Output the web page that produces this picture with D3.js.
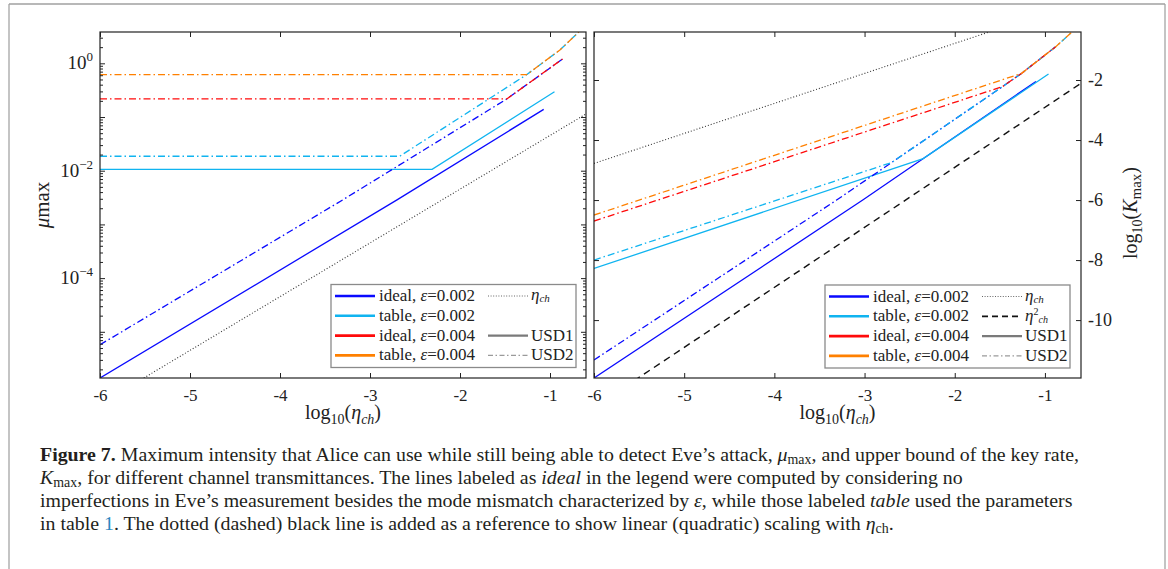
<!DOCTYPE html>
<html><head><meta charset="utf-8">
<script src="https://cdn.jsdelivr.net/npm/d3@7"></script>
<style>
body{margin:0;background:#fff;}
svg{display:block;}
text{font-family:"Liberation Serif","DejaVu Serif",serif;fill:#222;}
</style></head><body>
<svg id="c" width="1168" height="569"></svg>
<script>
// ---------------- DATA ----------------
const xTicks = [-6, -5, -4, -3, -2, -1];
const xTickLabels = ["-6", "-5", "-4", "-3", "-2", "-1"];
const xDomain = [-6, -0.6];

const muDomain = [1.38e-6, 3.83];
const muMajorTicks = [1, 1e-1, 1e-2, 1e-3, 1e-4, 1e-5];
const muLabelExponents = [0, -2, -4];

const kDomain = [-11.93, -0.4];
const kTicks = [-2, -4, -6, -8, -10];
const kTickLabels = ["-2", "-4", "-6", "-8", "-10"];

// left panel: mu_max vs log10(eta_ch)
const muIdeal002USD1 = [[-6, 1.38e-6], [-2.70, 2.86e-3], [-1.07, 0.139]];
const muTable002USD1 = [[-6, 0.0106], [-2.31, 0.0106], [-0.95, 0.296]];
const muIdeal002USD2 = [[-6, 5.74e-6], [-3.30, 2.88e-3], [-1.48, 0.217], [-0.85, 1.24]];
const muTable002USD2 = [[-6, 0.0186], [-2.67, 0.0186], [-1.26, 0.614], [-0.89, 1.77], [-0.68, 3.83]];
const muIdeal004USD2 = [[-6, 0.217], [-1.48, 0.217], [-0.85, 1.24]];
const muTable004USD2 = [[-6, 0.614], [-1.26, 0.614], [-0.89, 1.77], [-0.68, 3.83]];
const muEtaRef = [[-6, 4.5e-7], [-0.6, 0.114]];

// right panel: log10(K_max) vs log10(eta_ch)
const kIdeal002USD1 = [[-6, -11.93], [-3.02, -6.0], [-1.10, -2.05]];
const kTable002USD1 = [[-6, -8.28], [-2.35, -4.62], [-0.96, -1.80]];
const kIdeal002USD2 = [[-6, -11.33], [-3.31, -6.0], [-2.70, -4.75], [-1.47, -2.22], [-1.26, -1.78], [-0.88, -0.89]];
const kTable002USD2 = [[-6, -8.0], [-2.70, -4.75], [-1.47, -2.22], [-1.26, -1.78], [-0.88, -0.89], [-0.70, -0.4]];
const kIdeal004USD2 = [[-6, -6.7], [-1.47, -2.22], [-1.26, -1.78], [-0.88, -0.89]];
const kTable004USD2 = [[-6, -6.5], [-1.26, -1.78], [-0.88, -0.89], [-0.70, -0.4]];
const kEtaRef = [[-6, -4.78], [-0.6, 0.62]];
const kEta2Ref = [[-6, -12.91], [-0.6, -2.11]];

const legendLabels = ["ideal, ε=0.002", "table, ε=0.002", "ideal, ε=0.004", "table, ε=0.004"];

// ---------------- STYLE ----------------
const BLUE = "#0a0aff", CYAN = "#10b4f0", RED = "#ff0a0a", ORANGE = "#ff8000";
const legendColors = [BLUE, CYAN, RED, ORANGE];
const DASH = {solid: null, dashdot: "7,3,1.5,3", dotted: "1,2", dashed: "7,5"};

const svg = d3.select("#c");
svg.append("rect").attr("width", 1168).attr("height", 569).attr("fill", "#fff");
// outer frame
svg.append("line").attr("x1", 9).attr("x2", 9).attr("y1", 4).attr("y2", 569).attr("stroke", "#c4c4c4").attr("stroke-width", 2);
svg.append("line").attr("x1", 1165).attr("x2", 1165).attr("y1", 4).attr("y2", 569).attr("stroke", "#c4c4c4").attr("stroke-width", 2);
svg.append("line").attr("x1", 9).attr("x2", 1165).attr("y1", 4).attr("y2", 4).attr("stroke", "#a0a0a0").attr("stroke-width", 1.5);

const L = {x0: 100, x1: 586, y0: 32, y1: 378};
const R = {x0: 594, x1: 1081, y0: 32, y1: 378};

const xL = d3.scaleLinear().domain(xDomain).range([L.x0, L.x1]);
const xR = d3.scaleLinear().domain(xDomain).range([R.x0, R.x1]);
const yL = d3.scaleLog().domain(muDomain).range([L.y1, L.y0]);
const yR = d3.scaleLinear().domain(kDomain).range([R.y1, R.y0]);

const defs = svg.append("defs");
[["clipL", L], ["clipR", R]].forEach(([id, P]) => {
  defs.append("clipPath").attr("id", id).append("rect")
    .attr("x", P.x0).attr("y", P.y0).attr("width", P.x1 - P.x0).attr("height", P.y1 - P.y0);
});

function drawSeries(g, list, xs, ys) {
  const line = d3.line().x(d => xs(d[0])).y(d => ys(d[1]));
  list.forEach(s => {
    g.append("path").attr("d", line(s.data)).attr("fill", "none")
      .attr("stroke", s.color).attr("stroke-width", s.w || 1.3)
      .attr("stroke-dasharray", DASH[s.dash]);
  });
}

const gL = svg.append("g").attr("clip-path", "url(#clipL)");
drawSeries(gL, [
  {data: muEtaRef, color: "#333", dash: "dotted", w: 1.1},
  {data: muIdeal002USD1, color: BLUE, dash: "solid"},
  {data: muTable002USD1, color: CYAN, dash: "solid"},
  {data: muIdeal002USD2, color: BLUE, dash: "dashdot"},
  {data: muTable002USD2, color: CYAN, dash: "dashdot"},
  {data: muIdeal004USD2, color: RED, dash: "dashdot"},
  {data: muTable004USD2, color: ORANGE, dash: "dashdot"}
], xL, yL);

const gR = svg.append("g").attr("clip-path", "url(#clipR)");
drawSeries(gR, [
  {data: kEtaRef, color: "#333", dash: "dotted", w: 1.1},
  {data: kEta2Ref, color: "#111", dash: "dashed", w: 1.4},
  {data: kIdeal002USD1, color: BLUE, dash: "solid"},
  {data: kTable002USD1, color: CYAN, dash: "solid"},
  {data: kIdeal002USD2, color: BLUE, dash: "dashdot"},
  {data: kTable002USD2, color: CYAN, dash: "dashdot"},
  {data: kIdeal004USD2, color: RED, dash: "dashdot"},
  {data: kTable004USD2, color: ORANGE, dash: "dashdot"}
], xR, yR);

// ---------------- AXES ----------------
function styleAxis(g) {
  g.select(".domain").remove();
  g.selectAll(".tick line").attr("stroke", "#222").attr("stroke-width", 1);
  g.selectAll(".tick text").attr("fill", "#222").style("font-family", '"Liberation Serif",serif');
}
function xAxes(xs, P) {
  const b = svg.append("g").attr("transform", `translate(0,${P.y1})`)
    .call(d3.axisBottom(xs).tickValues(xTicks).tickSize(-5).tickPadding(11)
      .tickFormat((d, i) => xTickLabels[i]));
  styleAxis(b);
  b.selectAll(".tick text").style("font-size", "17px");
  const t = svg.append("g").attr("transform", `translate(0,${P.y0})`)
    .call(d3.axisTop(xs).tickValues(xTicks).tickSize(-5).tickFormat(""));
  styleAxis(t);
}
xAxes(xL, L);
xAxes(xR, R);

// left log axis
const minorMu = [];
for (let e = -6; e <= 0; e++) for (let m = 2; m <= 9; m++) {
  const v = m * Math.pow(10, e);
  if (v >= muDomain[0] && v <= muDomain[1]) minorMu.push(v);
}
[[d3.axisLeft, L.x0], [d3.axisRight, L.x1]].forEach(([ax, xp]) => {
  const gm = svg.append("g").attr("transform", `translate(${xp},0)`)
    .call(ax(yL).tickValues(muMajorTicks).tickSize(-5).tickPadding(7).tickFormat(""));
  styleAxis(gm);
  const gn = svg.append("g").attr("transform", `translate(${xp},0)`)
    .call(ax(yL).tickValues(minorMu).tickSize(-3).tickFormat(""));
  styleAxis(gn);
});
// labels 10^k
const gLab = svg.append("g");
muLabelExponents.forEach(e => {
  const t = gLab.append("text").attr("x", L.x0 - 7).attr("y", yL(Math.pow(10, e)) + 6)
    .attr("text-anchor", "end").style("font-size", "19px");
  t.append("tspan").text("10");
  t.append("tspan").attr("dy", -8).style("font-size", "13px").text(e === 0 ? "0" : "−" + (-e));
});

// right panel y axes
const gRL = svg.append("g").attr("transform", `translate(${R.x0},0)`)
  .call(d3.axisLeft(yR).tickValues(kTicks).tickSize(-5).tickFormat(""));
styleAxis(gRL);
const gRR = svg.append("g").attr("transform", `translate(${R.x1},0)`)
  .call(d3.axisRight(yR).tickValues(kTicks).tickSize(-5).tickPadding(7)
    .tickFormat((d, i) => kTickLabels[i]));
styleAxis(gRR);
gRR.selectAll(".tick text").style("font-size", "18px");

// frames
[L, R].forEach(P => {
  svg.append("rect").attr("x", P.x0).attr("y", P.y0).attr("width", P.x1 - P.x0).attr("height", P.y1 - P.y0)
    .attr("fill", "none").attr("stroke", "#222").attr("stroke-width", 1.2);
});

// ---------------- AXIS TITLES ----------------
function xTitle(cx) {
  const t = svg.append("text").attr("x", cx).attr("y", 419).attr("text-anchor", "middle").style("font-size", "20px");
  t.append("tspan").text("log");
  t.append("tspan").attr("dy", 5).style("font-size", "14px").text("10");
  t.append("tspan").attr("dy", -5).text("(");
  t.append("tspan").style("font-style", "italic").text("η");
  t.append("tspan").attr("dy", 5).style("font-size", "14px").style("font-style", "italic").text("ch");
  t.append("tspan").attr("dy", -5).text(")");
}
xTitle((L.x0 + L.x1) / 2);
xTitle((R.x0 + R.x1) / 2);

const ty = svg.append("text").attr("transform", `translate(49,${(L.y0 + L.y1) / 2}) rotate(-90)`)
  .attr("text-anchor", "middle").style("font-size", "21px");
ty.append("tspan").style("font-style", "italic").text("μ");
ty.append("tspan").text("max");

const tk = svg.append("text").attr("transform", `translate(1137,${(R.y0 + R.y1) / 2 + 8}) rotate(-90)`)
  .attr("text-anchor", "middle").style("font-size", "20px");
tk.append("tspan").text("log");
tk.append("tspan").attr("dy", 5).style("font-size", "14px").text("10");
tk.append("tspan").attr("dy", -5).text("(");
tk.append("tspan").style("font-style", "italic").text("K");
tk.append("tspan").attr("dy", 4).style("font-size", "15px").text("max");
tk.append("tspan").attr("dy", -4).text(")");

// ---------------- LEGENDS ----------------
function legend(bx, by, withEta2) {
  const g = svg.append("g").attr("transform", `translate(${bx},${by})`);
  g.append("rect").attr("width", 245).attr("height", 83).attr("fill", "#fff")
    .attr("stroke", "#8a8a8a").attr("stroke-width", 1.3);
  const rowY = i => 11.5 + i * 19.8;
  legendLabels.forEach((lab, i) => {
    g.append("line").attr("x1", 4).attr("x2", 44).attr("y1", rowY(i)).attr("y2", rowY(i))
      .attr("stroke", legendColors[i]).attr("stroke-width", 2.6);
    const parts = lab.split("ε");
    const t = g.append("text").attr("x", 48).attr("y", rowY(i) + 5).style("font-size", "17px");
    t.append("tspan").text(parts[0]);
    t.append("tspan").style("font-style", "italic").text("ε");
    t.append("tspan").text(parts[1]);
  });
  // eta_ch
  g.append("line").attr("x1", 157).attr("x2", 197).attr("y1", rowY(0)).attr("y2", rowY(0))
    .attr("stroke", "#666").attr("stroke-width", 1).attr("stroke-dasharray", "1,1.6");
  const te = g.append("text").attr("x", 200).attr("y", rowY(0) + 4).style("font-size", "17px");
  te.append("tspan").style("font-style", "italic").text("η");
  te.append("tspan").attr("dy", 2).style("font-size", "11px").style("font-style", "italic").text("ch");
  if (withEta2) {
    g.append("line").attr("x1", 157).attr("x2", 197).attr("y1", rowY(1)).attr("y2", rowY(1))
      .attr("stroke", "#111").attr("stroke-width", 1.8).attr("stroke-dasharray", "6,4");
    const t2 = g.append("text").attr("x", 200).attr("y", rowY(1) + 5).style("font-size", "17px");
    t2.append("tspan").style("font-style", "italic").text("η");
    t2.append("tspan").attr("dy", -6).style("font-size", "10px").text("2");
    t2.append("tspan").attr("dy", 8).style("font-size", "10px").style("font-style", "italic").text("ch");
  }
  g.append("line").attr("x1", 157).attr("x2", 197).attr("y1", rowY(2)).attr("y2", rowY(2))
    .attr("stroke", "#7a7a7a").attr("stroke-width", 2.4);
  g.append("text").attr("x", 200).attr("y", rowY(2) + 5).style("font-size", "17px").text("USD1");
  g.append("line").attr("x1", 157).attr("x2", 197).attr("y1", rowY(3)).attr("y2", rowY(3))
    .attr("stroke", "#9a9a9a").attr("stroke-width", 1.4).attr("stroke-dasharray", "5,2.5,1.5,2.5");
  g.append("text").attr("x", 200).attr("y", rowY(3) + 5).style("font-size", "17px").text("USD2");
}
legend(331, 284.5, false);
legend(825, 285, true);

// ---------------- CAPTION ----------------
const captionLines = [
  [["Figure 7.", "b"], [" Maximum intensity that Alice can use while still being able to detect Eve’s attack, ", ""], ["μ", "i"], ["max", "sub"], [", and upper bound of the key rate,", ""]],
  [["K", "i"], ["max", "sub"], [", for different channel transmittances. The lines labeled as ", ""], ["ideal", "i"], [" in the legend were computed by considering no", ""]],
  [["imperfections in Eve’s measurement besides the mode mismatch characterized by ", ""], ["ε", "i"], [", while those labeled ", ""], ["table", "i"], [" used the parameters", ""]],
  [["in table ", ""], ["1", "link"], [". The dotted (dashed) black line is added as a reference to show linear (quadratic) scaling with ", ""], ["η", "i"], ["ch", "sub"], [".", ""]]
];
const capG = svg.append("g");
const capNodes = captionLines.map((segs, li) => {
  const t = capG.append("text").attr("x", 40).attr("y", 461 + li * 23).style("font-size", "17px").style("fill", "#231f20");
  let shift = 0;
  segs.forEach(([txt, st]) => {
    const sp = t.append("tspan").text(txt);
    const target = st === "sub" ? 3 : 0;
    if (target !== shift) { sp.attr("dy", target - shift); shift = target; }
    if (st === "b") sp.style("font-weight", "bold");
    if (st === "i") sp.style("font-style", "italic");
    if (st === "sub") sp.style("font-size", "12px");
    if (st === "link") sp.style("fill", "#2b86c0");
  });
  return t;
});
const w1 = capNodes[0].node().getComputedTextLength();
const fs = 17 * 1040 / w1;
capNodes.forEach(t => {
  t.style("font-size", fs + "px");
  t.selectAll("tspan").filter(function () { return this.style.fontSize === "12px"; }).style("font-size", (fs * 0.7) + "px");
});
</script>
</body></html>
